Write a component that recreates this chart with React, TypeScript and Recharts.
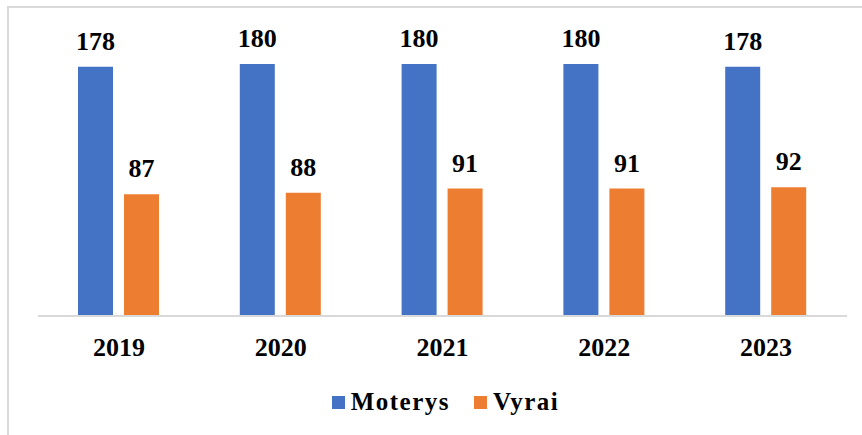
import { Bar, BarChart, LabelList, Legend, XAxis, YAxis } from "recharts";

const years = ["2019", "2020", "2021", "2022", "2023"];
const moterys = [178, 180, 180, 180, 178];
const vyrai = [87, 88, 91, 91, 92];

const data = years.map((year, i) => ({ year, moterys: moterys[i], vyrai: vyrai[i] }));

const FONT = "'Liberation Serif', 'Times New Roman', serif";
const BLUE = "#4472C4";
const ORANGE = "#ED7D31";

const legendItems = [
  { label: "Moterys", color: BLUE },
  { label: "Vyrai", color: ORANGE },
];

function ChartLegend() {
  return (
    <div
      style={{
        height: 30,
        display: "flex",
        justifyContent: "center",
        alignItems: "center",
        gap: 24,
        paddingLeft: 6,
        color: "#000",
      }}
    >
      {legendItems.map((it) => (
        <div key={it.label} style={{ display: "flex", alignItems: "center", gap: 6 }}>
          <span style={{ width: 13, height: 13, background: it.color, display: "inline-block" }} />
          <span style={{ fontFamily: FONT, fontWeight: 700, fontSize: 25, letterSpacing: 1.5, lineHeight: "30px" }}>
            {it.label}
          </span>
        </div>
      ))}
    </div>
  );
}

export default function App() {
  return (
    <div style={{ position: "absolute", left: 0, top: 0, width: 862, height: 435, overflow: "hidden", background: "#fff" }}>
      <div
        style={{
          position: "absolute",
          left: 7,
          top: 6,
          width: 880,
          height: 460,
          border: "2px solid #d9d9d9",
        }}
      />
      <BarChart
        width={862}
        height={435}
        data={data}
        margin={{ top: 36, right: 15, left: 38, bottom: 18 }}
        barGap={11}
        barSize={35}
      >
        <YAxis hide domain={[0, 200]} />
        <XAxis
          dataKey="year"
          height={71}
          tickLine={false}
          tickSize={0}
          tickMargin={22}
          axisLine={{ stroke: "#d9d9d9", strokeWidth: 2 }}
          tick={{ fontFamily: FONT, fontWeight: 700, fontSize: 26, fill: "#000" }}
        />
        <Legend verticalAlign="bottom" content={() => <ChartLegend />} />
        <Bar dataKey="moterys" name="Moterys" fill={BLUE} isAnimationActive={false}>
          <LabelList dataKey="moterys" position="top" offset={17} style={{ fontFamily: FONT, fontWeight: 700, fontSize: 26, fill: "#000" }} />
        </Bar>
        <Bar dataKey="vyrai" name="Vyrai" fill={ORANGE} isAnimationActive={false}>
          <LabelList dataKey="vyrai" position="top" offset={17} style={{ fontFamily: FONT, fontWeight: 700, fontSize: 26, fill: "#000" }} />
        </Bar>
      </BarChart>
    </div>
  );
}
